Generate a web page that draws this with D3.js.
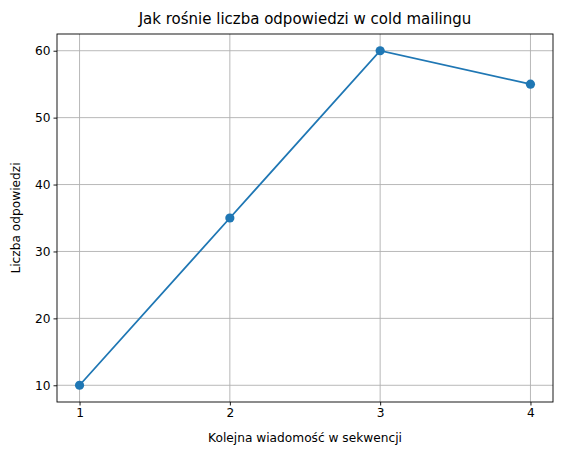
<!DOCTYPE html>
<html><head><meta charset="utf-8">
<script src="https://cdn.jsdelivr.net/npm/d3@7"></script>
<style>body{margin:0;background:#fff}svg{font-family:"DejaVu Sans",sans-serif}</style>
</head><body><div id="chart"></div>
<script>
const steps = [1, 2, 3, 4];
const replies = [10, 35, 60, 55];
const yTicks = [10, 20, 30, 40, 50, 60];

const W = 562, H = 456;
const m = {left: 57, right: 9, top: 34, bottom: 54};
const svg = d3.select('#chart').append('svg').attr('width', W).attr('height', H);

const x = d3.scaleLinear().domain([0.85, 4.15]).range([m.left, W - m.right]);
const y = d3.scaleLinear().domain([7.5, 62.5]).range([H - m.bottom, m.top]);

// grid
svg.append('g').selectAll('line').data(steps).join('line')
  .attr('x1', d => x(d)).attr('x2', d => x(d))
  .attr('y1', m.top).attr('y2', H - m.bottom)
  .attr('stroke', '#b0b0b0').attr('stroke-width', 0.9);
svg.append('g').selectAll('line').data(yTicks).join('line')
  .attr('y1', d => y(d)).attr('y2', d => y(d))
  .attr('x1', m.left).attr('x2', W - m.right)
  .attr('stroke', '#b0b0b0').attr('stroke-width', 0.9);

// axes
const xAxis = svg.append('g').attr('transform', `translate(0,${H - m.bottom})`)
  .call(d3.axisBottom(x).tickValues(steps).tickFormat(d3.format('d')).tickSize(3.5).tickPadding(3));
const yAxis = svg.append('g').attr('transform', `translate(${m.left},0)`)
  .call(d3.axisLeft(y).tickValues(yTicks).tickSize(3.5).tickPadding(3));
[xAxis, yAxis].forEach(a => {
  a.select('.domain').remove();
  a.selectAll('text').attr('font-size', 12.2).attr('fill', '#000')
    .attr('font-family', '"DejaVu Sans",sans-serif');
  a.selectAll('line').attr('stroke', '#000').attr('stroke-width', 0.9);
});
svg.append('rect').attr('x', m.left).attr('y', m.top)
  .attr('width', W - m.left - m.right).attr('height', H - m.top - m.bottom)
  .attr('fill', 'none').attr('stroke', '#000').attr('stroke-width', 0.9);

// line + markers
const line = d3.line().x((d, i) => x(steps[i])).y(d => y(d));
svg.append('path').datum(replies).attr('d', line)
  .attr('fill', 'none').attr('stroke', '#1f77b4').attr('stroke-width', 1.8);
svg.append('g').selectAll('circle').data(replies).join('circle')
  .attr('cx', (d, i) => x(steps[i])).attr('cy', d => y(d)).attr('r', 4.6)
  .attr('fill', '#1f77b4');

// labels
svg.append('text').attr('x', (m.left + W - m.right) / 2).attr('y', 24)
  .attr('text-anchor', 'middle').attr('font-size', 15)
  .text('Jak rośnie liczba odpowiedzi w cold mailingu');
svg.append('text').attr('x', (m.left + W - m.right) / 2).attr('y', 442)
  .attr('text-anchor', 'middle').attr('font-size', 12.2)
  .text('Kolejna wiadomość w sekwencji');
svg.append('text').attr('transform', `translate(20,${(m.top + H - m.bottom) / 2}) rotate(-90)`)
  .attr('text-anchor', 'middle').attr('font-size', 12.2)
  .text('Liczba odpowiedzi');
</script></body></html>
